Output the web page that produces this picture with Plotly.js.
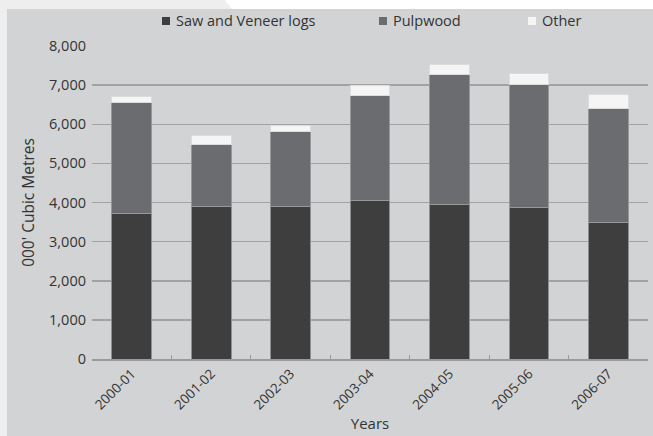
<!DOCTYPE html>
<html>
<head>
<meta charset="utf-8">
<script src="https://cdn.plot.ly/plotly-3.0.1.min.js"></script>
<style>
  html, body { margin: 0; padding: 0; background: #eeeeee; }
  #chart { width: 653px; height: 436px; }
</style>
</head>
<body>
<div id="chart"></div>
<script>
// Log harvest by product type, thousand cubic metres
const years = ['2000-01', '2001-02', '2002-03', '2003-04', '2004-05', '2005-06', '2006-07'];
const sawVeneer = [3710, 3910, 3890, 4040, 3940, 3860, 3500];
const pulpwood = [2840, 1580, 1930, 2690, 3320, 3150, 2890];
const other = [150, 220, 160, 250, 270, 300, 370];
const yTicks = [0, 1000, 2000, 3000, 4000, 5000, 6000, 7000, 8000];

const W = 653, H = 436;
const M = { l: 92, r: 5, t: 46, b: 77 };
const plotW = W - M.l - M.r, plotH = H - M.t - M.b;
// pixel -> paper helpers for panels and the key row
const px = x => (x - M.l) / plotW;
const py = y => (H - M.b - y) / plotH;

const font = { family: 'Open Sans, Noto Sans, sans-serif', color: '#333333' };

const series = [
  { name: 'Saw and Veneer logs', vals: sawVeneer, fill: '#3e3e3e', edge: '#8f8f91', keyX: 166 },
  { name: 'Pulpwood', vals: pulpwood, fill: '#6b6c70', edge: '#98989b', keyX: 383 },
  { name: 'Other', vals: other, fill: '#f5f5f5', edge: '#dcdcdc', keyX: 532 }
];

const data = series.map(s => ({
  type: 'bar', name: s.name, x: years, y: s.vals,
  marker: { color: s.fill, line: { color: s.edge, width: 1 } },
  hoverinfo: 'x+y+name', showlegend: false
}));

// key row across the top: small square + label per series
const keyY = 21, sq = 4;
const keyShapes = series.map(s => ({
  type: 'rect', xref: 'paper', yref: 'paper',
  x0: px(s.keyX - sq), x1: px(s.keyX + sq), y0: py(keyY + sq), y1: py(keyY - sq),
  fillcolor: s.fill, line: { width: 0 }
}));
const keyLabels = series.map(s => ({
  xref: 'paper', yref: 'paper', x: px(s.keyX + 8), y: py(keyY),
  xanchor: 'left', yanchor: 'middle', showarrow: false,
  text: s.name, font: Object.assign({ size: 14.5 }, font)
}));

const layout = {
  width: W, height: H,
  margin: M,
  barmode: 'stack',
  bargap: 0.5,
  paper_bgcolor: '#eeeeee',
  plot_bgcolor: 'rgba(0,0,0,0)',
  font: Object.assign({ size: 14 }, font),
  showlegend: false,
  xaxis: {
    type: 'category', tickangle: -45,
    tickfont: Object.assign({ size: 13.5 }, font),
    showline: true, linecolor: '#9a9a9c', linewidth: 1.5,
    ticks: 'inside', tickson: 'boundaries', ticklen: 4, tickcolor: '#9a9a9c', tickwidth: 1,
    showgrid: false, fixedrange: true,
    title: { text: 'Years', font: Object.assign({ size: 15 }, font), standoff: 6 }
  },
  yaxis: {
    range: [0, 8000], tickvals: yTicks, tickformat: ',d',
    tickfont: Object.assign({ size: 14.5 }, font),
    showgrid: true, gridcolor: '#a2a2a4', gridwidth: 1.5,
    zeroline: false, showline: false, ticks: '', ticklabelstandoff: 5,
    fixedrange: true,
    title: { text: "000' Cubic Metres", font: Object.assign({ size: 15.5 }, font), standoff: 10 }
  },
  shapes: [
    // grey chart panel
    { type: 'rect', xref: 'paper', yref: 'paper', layer: 'below',
      x0: px(7), x1: px(W + 2), y0: py(H + 2), y1: py(9),
      fillcolor: '#d2d3d5', line: { width: 0 } },
    // white header band with slanted left edge
    { type: 'path', xref: 'paper', yref: 'paper', layer: 'below',
      path: 'M ' + px(223) + ' ' + py(-2) + ' L ' + px(W + 2) + ' ' + py(-2) +
            ' L ' + px(W + 2) + ' ' + py(9) + ' L ' + px(232) + ' ' + py(9) + ' Z',
      fillcolor: '#ffffff', line: { width: 0 } }
  ].concat(keyShapes),
  annotations: keyLabels
};

Plotly.newPlot('chart', data, layout, { displayModeBar: false, staticPlot: true });
</script>
</body>
</html>
